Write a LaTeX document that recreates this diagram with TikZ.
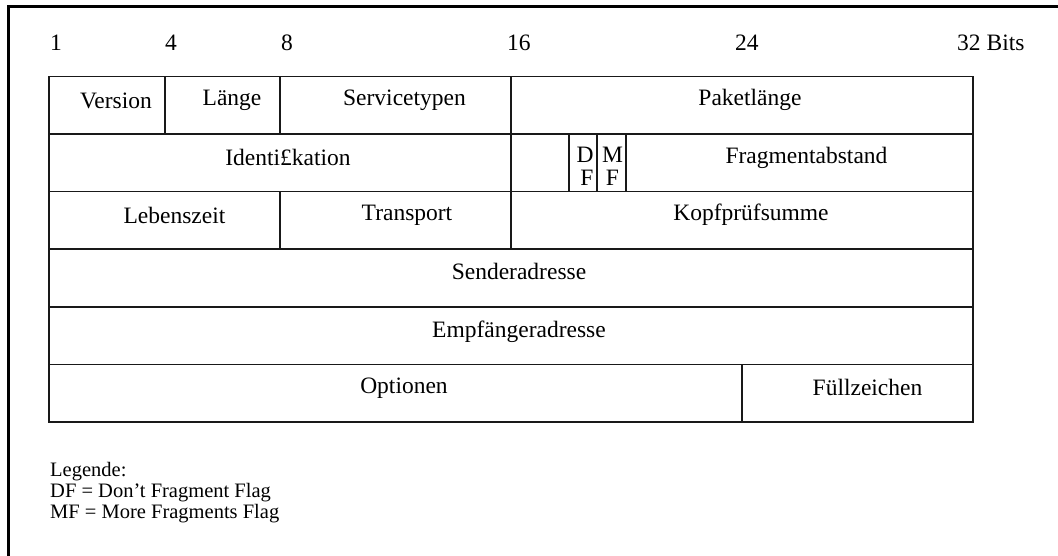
\documentclass[tikz,border=0pt]{standalone}
\usepackage{fontspec}
\setmainfont{Liberation Serif}
\begin{document}
\begin{tikzpicture}[x=1pt,y=-1pt,
  grid/.style={draw=black!90,line width=1.2pt},
  frame/.style={draw=black,line width=2.2pt},
  field/.style={anchor=base,inner sep=0pt,font=\fontsize{23.5}{28}\selectfont},
  bitnum/.style={anchor=base west,inner sep=0pt,font=\fontsize{23.5}{28}\selectfont},
  legend/.style={anchor=base west,inner sep=0pt,font=\fontsize{20.5}{24}\selectfont}]
\useasboundingbox (0,0) rectangle (1058,555);
% page frame (top and left edges)
\draw[frame] (8.5,560) -- (8.5,6.5) -- (1065,6.5);

% bit positions
\node[bitnum] (b1)  at (50,50)  {1};
\node[bitnum] (b4)  at (165,50) {4};
\node[bitnum] (b8)  at (281,50) {8};
\node[bitnum] (b16) at (507,50) {16};
\node[bitnum] (b24) at (735,50) {24};
\node[bitnum] (b32) at (957,50) {32 Bits};

% header grid: outer box and row separators
\draw[grid] (49,76.5) rectangle (973,422);
\foreach \y in {134,191.5,249,307,364.5}
  \draw[grid] (49,\y) -- (973,\y);
% column separators
\draw[grid] (165,76.5) -- (165,134);
\draw[grid] (280,76.5) -- (280,134);
\draw[grid] (511,76.5) -- (511,249);
\draw[grid] (280,191.5) -- (280,249);
\draw[grid] (569,134) -- (569,191.5);
\draw[grid] (597,134) -- (597,191.5);
\draw[grid] (626,134) -- (626,191.5);
\draw[grid] (742,364.5) -- (742,422);

% row 1
\node[field] (version) at (116,108)   {Version};
\node[field] (laenge)  at (232,105)   {Länge};
\node[field] (service) at (404.5,105) {Servicetypen};
\node[field] (paket)   at (750,105)   {Paketlänge};
% row 2
\node[field] (ident) at (288,165)   {Identi£kation};
\node[field] (d)     at (585,162)   {D};
\node[field] (df)    at (587,185)   {F};
\node[field] (m)     at (612.5,162) {M};
\node[field] (mf)    at (612.5,185) {F};
\node[field] (frag)  at (806.5,163) {Fragmentabstand};
% row 3
\node[field] (leben) at (174.5,223) {Lebenszeit};
\node[field] (trans) at (407,220)   {Transport};
\node[field] (kopf)  at (751,220)   {Kopfprüfsumme};
% rows 4 and 5
\node[field] (sender) at (519,279) {Senderadresse};
\node[field] (empf)   at (519,337) {Empfängeradresse};
% row 6
\node[field] (opt)  at (404,393)   {Optionen};
\node[field] (fuell) at (867.5,395) {Füllzeichen};

% legend
\node[legend] (leg0) at (50,476) {Legende:};
\node[legend] (leg1) at (50,497) {DF = Don’t Fragment Flag};
\node[legend] (leg2) at (50,518) {MF = More Fragments Flag};
\end{tikzpicture}
\end{document}
